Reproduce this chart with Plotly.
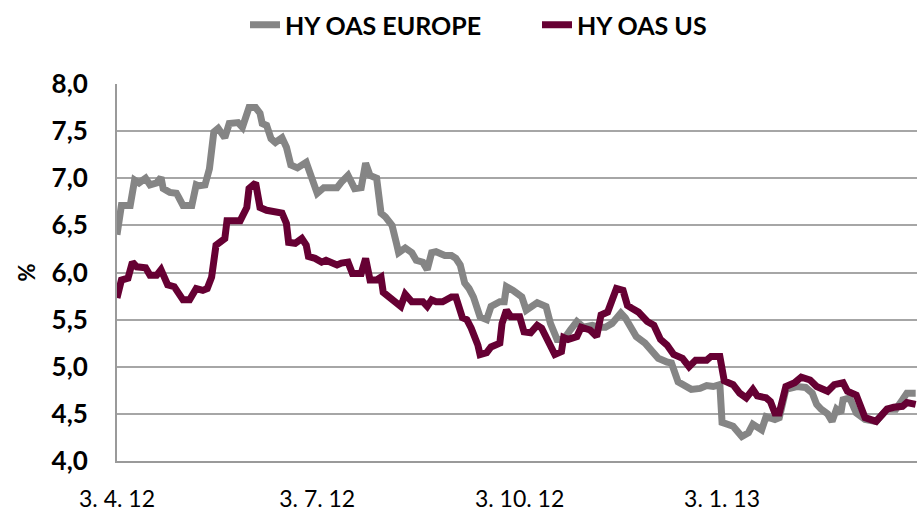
import pandas as pd
import plotly.graph_objects as go

# Days after 3 April 2012 and spread values (%)
eu_days = [0, 2, 6, 8, 10, 13, 15, 18, 20, 21, 24, 27, 28, 30, 34, 36, 37, 40, 42, 44,
           46, 49, 51, 55, 57, 59, 60, 63, 65, 66, 68, 70, 72, 75, 77, 79, 82, 86, 89, 91,
           94, 100, 102, 105, 108, 111, 113, 115, 118, 120, 122, 125, 127, 128, 131, 134,
           136, 139, 141, 143, 145, 149, 152, 154, 156, 158, 160, 162, 165, 168, 170, 174,
           176, 177, 180, 184, 186, 191, 195, 197, 200, 203, 206, 209, 212, 216, 219, 222,
           225, 227, 229, 231, 234, 236, 240, 243, 246, 250, 252, 255, 258, 261, 265, 268,
           271, 274, 275, 280, 284, 287, 289, 293, 295, 299, 301, 304, 309, 313, 316, 318,
           320, 323, 325, 327, 329, 330, 333, 336, 340, 345, 350, 354, 357, 359, 363]
eu_values = [6.40, 6.71, 6.71, 6.98, 6.95, 7.00, 6.93, 6.95, 7.01, 6.89, 6.85, 6.84, 6.80,
             6.71, 6.71, 6.93, 6.92, 6.93, 7.10, 7.49, 7.53, 7.43, 7.58, 7.59, 7.54, 7.69,
             7.75, 7.75, 7.69, 7.58, 7.56, 7.42, 7.38, 7.43, 7.33, 7.14, 7.11, 7.17, 6.98,
             6.84, 6.90, 6.90, 6.96, 7.03, 6.89, 6.90, 7.16, 7.03, 7.00, 6.63, 6.59, 6.50,
             6.31, 6.21, 6.26, 6.21, 6.13, 6.11, 6.03, 6.21, 6.22, 6.18, 6.18, 6.15, 6.08,
             5.89, 5.83, 5.74, 5.53, 5.50, 5.64, 5.69, 5.69, 5.85, 5.81, 5.74, 5.60, 5.68,
             5.64, 5.46, 5.29, 5.29, 5.39, 5.48, 5.42, 5.44, 5.42, 5.42, 5.46, 5.53, 5.57,
             5.52, 5.39, 5.32, 5.25, 5.16, 5.09, 5.05, 5.04, 4.84, 4.81, 4.76, 4.77, 4.80,
             4.79, 4.81, 4.41, 4.37, 4.26, 4.30, 4.39, 4.33, 4.47, 4.44, 4.46, 4.76, 4.79,
             4.78, 4.72, 4.60, 4.55, 4.50, 4.42, 4.55, 4.51, 4.65, 4.67, 4.51, 4.44, 4.42,
             4.55, 4.55, 4.65, 4.72, 4.72]

us_days = [0, 2, 5, 7, 9, 13, 15, 18, 20, 23, 26, 28, 30, 33, 36, 39, 41, 43, 45, 49,
           50, 53, 56, 59, 60, 63, 65, 68, 71, 75, 77, 78, 81, 84, 86, 87, 90, 93, 95, 100,
           102, 105, 107, 111, 113, 115, 118, 120, 121, 124, 127, 129, 131, 134, 139, 141,
           143, 145, 148, 152, 154, 157, 159, 161, 164, 165, 168, 170, 174, 175, 177, 179,
           183, 185, 188, 191, 193, 195, 199, 202, 203, 205, 209, 211, 215, 218, 220, 223,
           225, 227, 230, 232, 234, 237, 241, 244, 247, 250, 253, 257, 260, 263, 268, 270,
           274, 276, 280, 283, 286, 289, 291, 295, 297, 299, 301, 304, 308, 311, 315, 318,
           323, 326, 330, 332, 336, 340, 345, 350, 353, 357, 359, 363]
us_values = [5.73, 5.92, 5.94, 6.11, 6.06, 6.05, 5.97, 5.97, 6.03, 5.87, 5.85, 5.76, 5.71,
             5.71, 5.83, 5.81, 5.83, 5.95, 6.29, 6.36, 6.55, 6.55, 6.55, 6.69, 6.89, 6.95,
             6.69, 6.66, 6.64, 6.63, 6.52, 6.32, 6.31, 6.36, 6.29, 6.17, 6.15, 6.11, 6.13,
             6.08, 6.10, 6.11, 5.99, 5.99, 6.15, 5.92, 5.92, 5.95, 5.79, 5.74, 5.68, 5.64,
             5.77, 5.69, 5.69, 5.64, 5.71, 5.69, 5.69, 5.74, 5.74, 5.52, 5.50, 5.41, 5.23,
             5.13, 5.15, 5.21, 5.25, 5.46, 5.60, 5.53, 5.53, 5.37, 5.36, 5.44, 5.41, 5.32,
             5.13, 5.16, 5.31, 5.29, 5.32, 5.42, 5.39, 5.32, 5.55, 5.58, 5.69, 5.83, 5.81,
             5.65, 5.62, 5.58, 5.48, 5.44, 5.29, 5.23, 5.13, 5.09, 5.00, 5.07, 5.07, 5.11,
             5.11, 4.85, 4.81, 4.72, 4.67, 4.76, 4.69, 4.67, 4.63, 4.51, 4.51, 4.79, 4.83,
             4.89, 4.86, 4.79, 4.74, 4.81, 4.83, 4.74, 4.70, 4.46, 4.42, 4.55, 4.57, 4.58,
             4.62, 4.60]

tick_dates = ["2012-04-03", "2012-07-03", "2012-10-03", "2013-01-03"]
tick_labels = ["3. 4. 12", "3. 7. 12", "3. 10. 12", "3. 1. 13"]
y_ticks = [4.0, 4.5, 5.0, 5.5, 6.0, 6.5, 7.0, 7.5, 8.0]
y_labels = ["4,0", "4,5", "5,0", "5,5", "6,0", "6,5", "7,0", "7,5", "8,0"]

start = pd.Timestamp("2012-04-03")
eu_dates = start + pd.to_timedelta(eu_days, unit="D")
us_dates = start + pd.to_timedelta(us_days, unit="D")

FONT = "Lato"
fig = go.Figure()
fig.add_trace(go.Scatter(x=eu_dates, y=eu_values, mode="lines", name="HY OAS EUROPE",
                         line=dict(color="#858585", width=7)))
fig.add_trace(go.Scatter(x=us_dates, y=us_values, mode="lines", name="HY OAS US",
                         line=dict(color="#660033", width=7)))

fig.update_layout(
    width=917, height=511,
    margin=dict(l=117, r=0, t=84, b=50, autoexpand=False),
    plot_bgcolor="white", paper_bgcolor="white",
    font=dict(family=FONT, color="black"),
    legend=dict(orientation="h", xref="container", yref="container",
                x=245 / 917, xanchor="left", y=1 - 25 / 511, yanchor="middle",
                font=dict(family=FONT, size=25, weight="bold"),
                entrywidth=247, entrywidthmode="pixels", tracegroupgap=0,
                borderwidth=0),
    showlegend=True,
)
fig.update_xaxes(
    range=[start, start + pd.Timedelta(days=363.6)],
    tickvals=tick_dates, ticktext=tick_labels,
    tickfont=dict(size=23, family=FONT),
    showgrid=False, showline=True, linecolor="#9a9a9a", linewidth=2,
    ticks="outside", ticklen=16, tickcolor="rgba(0,0,0,0)",
    zeroline=False, automargin=False,
)
fig.update_yaxes(
    range=[4, 8], tickvals=y_ticks, ticktext=y_labels,
    tickfont=dict(size=26, family=FONT, weight="bold"),
    showgrid=True, gridcolor="#a6a6a6", gridwidth=2,
    showline=True, linecolor="#9a9a9a", linewidth=2,
    ticks="outside", ticklen=22, tickcolor="rgba(0,0,0,0)",
    zeroline=False, automargin=False,
)
fig.add_annotation(text="%", xref="paper", yref="paper", x=-0.133, y=0.5,
                   showarrow=False, textangle=-90,
                   font=dict(family=FONT, size=22, weight="bold"))

fig.write_html("out.html", config={"displayModeBar": False},
               post_script="document.body.style.margin='0px';document.body.style.overflow='hidden';")
